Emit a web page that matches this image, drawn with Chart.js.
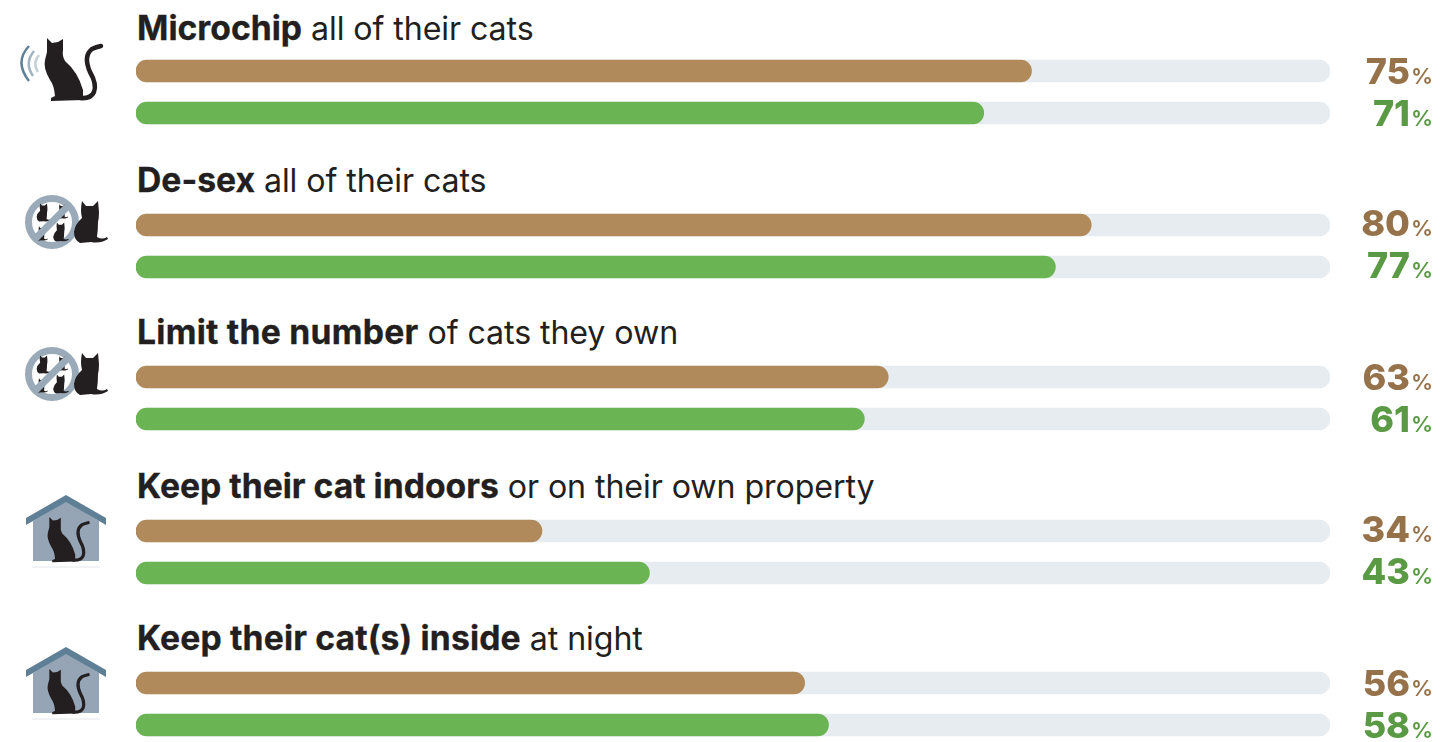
<!DOCTYPE html>
<html>
<head>
<meta charset="utf-8">
<title>Cat care</title>
<script src="https://cdn.jsdelivr.net/npm/chart.js@4/dist/chart.umd.min.js"></script>
<style>
html, body { margin: 0; padding: 0; background: #fff; overflow: hidden; }
body { width: 1440px; height: 742px; position: relative; font-family: Inter, "Noto Sans", sans-serif; color: #231f20; }
.head { position: absolute; left: 137px; font-size: 32.2px; line-height: 40px; white-space: nowrap; letter-spacing: -0.1px; }
.head b { font-weight: 700; font-size: 33.7px; -webkit-text-stroke: 0.3px #231f20; }
.box { position: absolute; left: 136px; width: 1304px; height: 84px; }
.box canvas { display: block; }
.icons { position: absolute; left: 0; top: 0; }
</style>
</head>
<body>

<svg width="0" height="0" style="position:absolute">
	<symbol id="cat" viewBox="43 38 60 64" overflow="visible">
		<path fill="#231f20" d="M47 38 L52 43 L58 42 L63 39 L63 50 Q62 56 65 61 Q78 72 83 90 L83 100 L51 101 L51 98 L55 96 Q54 85 50 80 Q43 68 45 60 L47 52 Z"/>
		<path fill="none" stroke="#231f20" stroke-width="4.5" stroke-linecap="round" d="M80 98 Q91 99 94 92 Q97 84 90 72 Q83 56 92 49 Q96 47 101 46"/>
	</symbol>
	<symbol id="front" viewBox="0 0 34 44" overflow="visible">
		<path fill="#231f20" d="M8 1 L12 6 L19 6 L24 1 L25 12 Q25 18 24 22 Q24 30 23 37 Q28 40 33 37 L34 39 Q26 44 17 42 L6 43 Q0 40 0 32 Q1 24 8 18 Q6 10 8 1 Z"/>
	</symbol>
	<symbol id="nobreed" viewBox="0 -3 88 54" overflow="visible">
		<circle cx="27" cy="24" r="23.5" fill="#fff" stroke="#9aaab8" stroke-width="7"/>
		<use href="#front" x="11" y="5" width="16" height="19"/>
		<use href="#front" x="31" y="6" width="13" height="15"/>
		<use href="#front" x="11" y="28" width="12" height="15"/>
		<use href="#front" x="28" y="24" width="16" height="20"/>
		<path stroke="#9aaab8" stroke-width="7" d="M10 41 L44 7"/>
		<use href="#front" x="49" y="2" width="34" height="44"/>
	</symbol>
	<symbol id="house" viewBox="0 0 80 74" overflow="visible">
		<path fill="#95a5b5" d="M7 26 L40 6 L73 26 L73 66 L7 66 Z"/>
		<path fill="#5e7f96" d="M0 23 L40 0 L80 23 L80 30 L40 7 L0 30 Z"/>
		<use href="#cat" x="20" y="22" width="44" height="46"/>
		<path stroke="#e3e6e9" stroke-width="1" d="M6 72 L74 72"/>
	</symbol>
</svg>

<script>
const categories = [
	['Microchip', ' all of their cats'],
	['De-sex', ' all of their cats'],
	['Limit the number', ' of cats they own'],
	['Keep their cat indoors', ' or on their own property'],
	['Keep their cat(s) inside', ' at night']
];
const brownValues = [75, 80, 63, 34, 56];
const greenValues = [71, 77, 61, 43, 58];
const trackValue = 100;

const BROWN = '#b08a5b';
const GREEN = '#6bb454';
const TRACK = '#e7ecf0';
const BROWN_TEXT = '#96724a';
const GREEN_TEXT = '#5a9a45';

// page layout of each group
const headTops = [8, 160, 312, 466, 618];
const headSpacing = [0, 0, 0.25, 0, 0.15];
const chartTops = [50, 204, 356, 510, 662];
const labelDrops = [13, 11, 13, 11, 13];

// writes the big number and small % to the right of each track
const valueLabels = {
	id: 'valueLabels',
	afterDatasetsDraw(chart) {
		const ctx = chart.ctx;
		const colors = [BROWN_TEXT, GREEN_TEXT];
		const values = chart.data.datasets[0].data;
		const drop = chart.options.plugins.valueLabels.drop;
		ctx.save();
		ctx.textBaseline = 'alphabetic';
		for (let i = 0; i < values.length; i++) {
			let y = chart.scales.y.getPixelForValue(i) + drop;
			ctx.fillStyle = colors[i];
			ctx.textAlign = 'right';
			ctx.font = '600 22px Inter';
			ctx.fillText('%', 1297, y);
			ctx.font = '800 36px Inter';
			ctx.fillText(values[i], 1274, y);
		}
		ctx.restore();
	}
};

function addGroup(i) {
	let head = document.createElement('div');
	head.className = 'head';
	head.style.top = headTops[i] + 'px';
	let bold = document.createElement('b');
	bold.textContent = categories[i][0];
	bold.style.letterSpacing = headSpacing[i] + 'px';
	head.appendChild(bold);
	head.appendChild(document.createTextNode(categories[i][1]));
	document.body.appendChild(head);

	let box = document.createElement('div');
	box.className = 'box';
	box.style.top = chartTops[i] + 'px';
	let canvas = document.createElement('canvas');
	canvas.width = 1304;
	canvas.height = 84;
	box.appendChild(canvas);
	document.body.appendChild(box);

	new Chart(canvas, {
		type: 'bar',
		plugins: [valueLabels],
		data: {
			labels: ['Brown', 'Green'],
			datasets: [
				{
					data: [brownValues[i], greenValues[i]],
					backgroundColor: [BROWN, GREEN],
					order: 1
				},
				{
					data: [trackValue, trackValue],
					backgroundColor: TRACK,
					order: 2
				}
			]
		},
		options: {
			indexAxis: 'y',
			responsive: false,
			animation: false,
			layout: { padding: { right: 110 } },
			datasets: {
				bar: {
					grouped: false,
					barThickness: 22,
					borderRadius: 11,
					borderSkipped: false
				}
			},
			plugins: {
				legend: { display: false },
				tooltip: { enabled: false },
				valueLabels: { drop: labelDrops[i] }
			},
			scales: {
				x: { display: false, min: 0, max: 100 },
				y: { display: false }
			}
		}
	});
}

for (let i = 0; i < categories.length; i++) {
	addGroup(i);
}
</script>

<svg class="icons" width="136" height="742" viewBox="0 0 136 742">
	<path fill="none" stroke="#5f8196" stroke-width="2.5" d="M29 46 Q14 62 29 81"/>
	<path fill="none" stroke="#9fb3c0" stroke-width="2.5" d="M34 51 Q24 63 33 76"/>
	<path fill="none" stroke="#c3d0d8" stroke-width="2.5" d="M39 55 Q32 63 38 72"/>
	<use href="#cat" x="43" y="38" width="60" height="64"/>
	<use href="#nobreed" x="25" y="195" width="88" height="54"/>
	<use href="#nobreed" x="25" y="347" width="88" height="54"/>
	<use href="#house" x="26" y="495" width="80" height="74"/>
	<use href="#house" x="26" y="647" width="80" height="74"/>
</svg>
</body>
</html>
